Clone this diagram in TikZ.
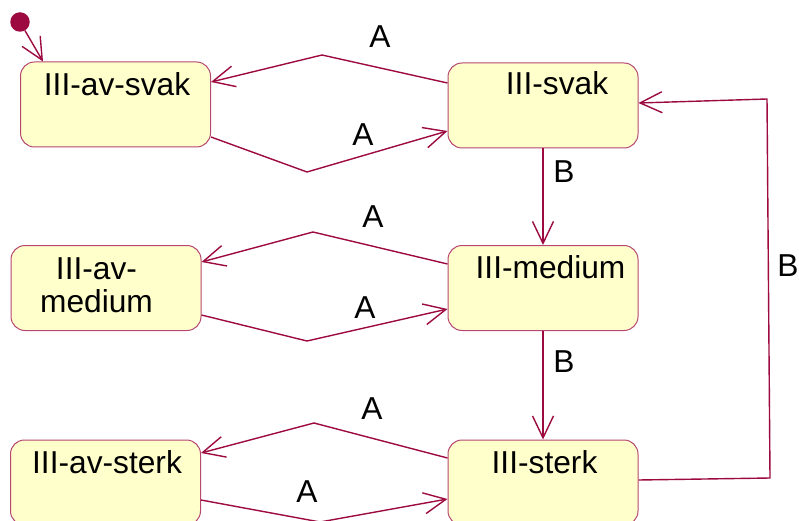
\documentclass[tikz,border=0pt]{standalone}
\usepackage{fontspec}
\setmainfont{Liberation Sans}
\usetikzlibrary{arrows.meta}

\definecolor{statered}{HTML}{9C0A40}
\definecolor{statefill}{HTML}{FFFFCC}

\begin{document}
\begin{tikzpicture}[
		  x=1pt, y=-1pt,
		  state/.style = {shape=rectangle, rounded corners=14pt, draw=statered!75, line width=1pt, fill=statefill, minimum width=190pt, minimum height=85pt, inner sep=0pt},
		  label text/.style = {anchor=base, inner sep=0pt, align=center, font=\fontsize{31.7}{33}\selectfont},
		  start dot/.style = {shape=circle, fill=statered, minimum size=19.5pt, inner sep=0pt},
		  trans/.style = {draw=statered, line width=1.4pt, -{Straight Barb[length=22pt,width=21pt]}}
		]
		  \useasboundingbox (0,0) rectangle (799,521);

		  % states
		  \node[state] (avsvak) at (115.5,104.5) {};
		  \node[state] (svak) at (543,105.5) {};
		  \node[state] (avmedium) at (106,288) {};
		  \node[state] (medium) at (543,288) {};
		  \node[state] (avsterk) at (105.5,482.5) {};
		  \node[state] (sterk) at (543,482.5) {};
		  \node[start dot] (start) at (20,22) {};

		  \node[label text] (avsvaktxt) at (117,96) {III-av-svak};
		  \node[label text] (svaktxt) at (557,95) {III-svak};
		  \node[label text] (avmediumtxt) at (96.5,312) {III-av-\\medium};
		  \node[label text] (mediumtxt) at (550.5,278) {III-medium};
		  \node[label text] (avsterktxt) at (107,473) {III-av-sterk};
		  \node[label text] (sterktxt) at (544.5,473) {III-sterk};

		  % bend points of the A transitions
		  \coordinate (k1) at (322,55);
		  \coordinate (k2) at (307,172);
		  \coordinate (k3) at (313,232);
		  \coordinate (k4) at (307,341);
		  \coordinate (k5) at (314,423);
		  \coordinate (k6) at (320,522);
		  \coordinate (r1) at (770,478);
		  \coordinate (r2) at (767,99);

		  \draw[trans] (start) -- ([xshift=23pt]avsvak.north west);

		  \draw[trans] ([yshift=22.5pt]svak.west) -- (k1) -- ([yshift=22.5pt]avsvak.east);
		  \draw[trans] ([yshift=-32.5pt]avsvak.east) -- (k2) -- ([yshift=-25.5pt]svak.west);
		  \draw[trans] ([yshift=24pt]medium.west) -- (k3) -- ([yshift=26pt]avmedium.east);
		  \draw[trans] ([yshift=-27pt]avmedium.east) -- (k4) -- ([yshift=-21pt]medium.west);
		  \draw[trans] ([yshift=24.5pt]sterk.west) -- (k5) -- ([yshift=29.5pt]avsterk.east);
		  \draw[trans] ([yshift=-17.5pt]avsterk.east) -- (k6) -- ([yshift=-16.5pt]sterk.west);

		  \draw[trans] (svak) -- (medium);
		  \draw[trans] (medium) -- (sterk);
		  \draw[trans] ([yshift=2.5pt]sterk.east) -- (r1) -- (r2) -- ([yshift=2.5pt]svak.east);

		  % event labels
		  \node[label text] (a1) at (380,48) {A};
		  \node[label text] (a2) at (363,146) {A};
		  \node[label text] (a3) at (373,227) {A};
		  \node[label text] (a4) at (365,318) {A};
		  \node[label text] (a5) at (372,419) {A};
		  \node[label text] (a6) at (307,502) {A};
		  \node[label text] (b1) at (564,183) {B};
		  \node[label text] (b2) at (564,372) {B};
		  \node[label text] (b3) at (788,276) {B};
		\end{tikzpicture}
\end{document}
